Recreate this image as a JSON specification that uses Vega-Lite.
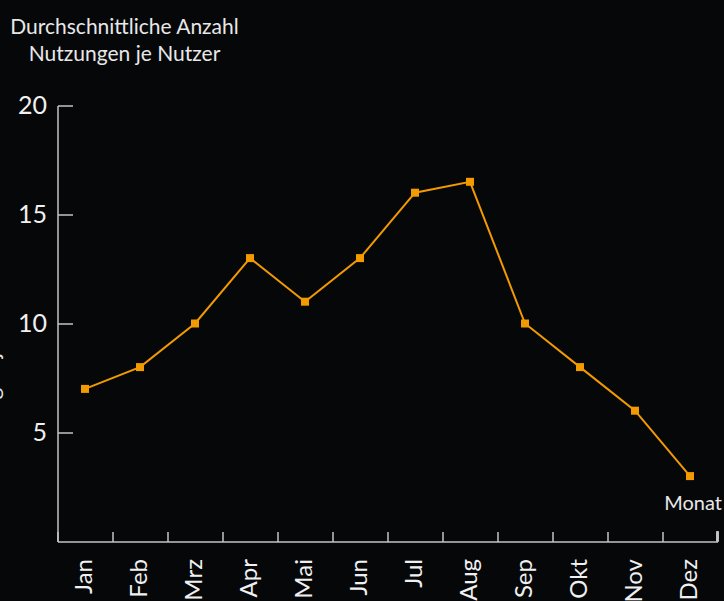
{
  "$schema": "https://vega.github.io/schema/vega-lite/v6.json",
  "autosize": {"type": "none"},
  "width": 660,
  "height": 436,
  "padding": {"left": 57.5, "top": 105.5, "right": 6.5, "bottom": 59.5},
  "background": "#060709",
  "title": {
    "text": "Anzahl Nutzungen je Nutzer",
    "orient": "left",
    "anchor": "start",
    "frame": "group",
    "baseline": "bottom",
    "offset": -17,
    "fontSize": 22,
    "fontWeight": "normal",
    "font": "Lato",
    "color": "#e8e8e8"
  },
  "config": {
    "view": {"stroke": null},
    "font": "Lato",
    "axis": {
      "domainColor": "#c4c4c4",
      "tickColor": "#c4c4c4",
      "domainWidth": 1.5,
      "tickWidth": 1.5,
      "labelColor": "#f0f0f0",
      "titleColor": "#e8e8e8",
      "labelFont": "Lato",
      "titleFont": "Lato",
      "grid": false,
      "titleFontWeight": "normal"
    }
  },
  "data": {
    "values": [
      {"Monat": "Jan", "Wert": 7},
      {"Monat": "Feb", "Wert": 8},
      {"Monat": "Mrz", "Wert": 10},
      {"Monat": "Apr", "Wert": 13},
      {"Monat": "Mai", "Wert": 11},
      {"Monat": "Jun", "Wert": 13},
      {"Monat": "Jul", "Wert": 16},
      {"Monat": "Aug", "Wert": 16.5},
      {"Monat": "Sep", "Wert": 10},
      {"Monat": "Okt", "Wert": 8},
      {"Monat": "Nov", "Wert": 6},
      {"Monat": "Dez", "Wert": 3}
    ]
  },
  "layer": [
    {
      "mark": {"type": "line", "color": "#f39a00", "strokeWidth": 2, "point": {"shape": "square", "size": 64, "filled": true, "color": "#f39a00", "opacity": 1}},
      "encoding": {
        "x": {
          "field": "Monat",
          "type": "ordinal",
          "sort": null,
          "bandPosition": 0.5,
          "scale": {"type": "band", "paddingInner": 0, "paddingOuter": 0},
          "axis": {
            "bandPosition": 0,
            "labelAngle": -90,
            "labelAlign": "right",
            "labelBaseline": "middle",
            "labelFontSize": 24,
            "labelPadding": 27,
            "tickSize": -10,
            "title": "Monat",
            "titleFontSize": 20,
            "titleAnchor": "end",
            "titleAlign": "right",
            "titleX": 664,
            "titleY": -38,
            "titleBaseline": "middle"
          }
        },
        "y": {
          "field": "Wert",
          "type": "quantitative",
          "scale": {"domain": [0, 20], "nice": false},
          "axis": {
            "values": [5, 10, 15, 20],
            "tickSize": -15,
            "labelFontSize": 25,
            "labelPadding": 26,
            "title": ["Durchschnittliche Anzahl", "Nutzungen je Nutzer"],
            "titleFontSize": 21,
            "titleLineHeight": 27,
            "titleAngle": 0,
            "titleAlign": "center",
            "titleBaseline": "top",
            "titleX": 66.5,
            "titleY": -89
          }
        }
      }
    },
    {
      "mark": {"type": "rule", "color": "#c4c4c4", "strokeWidth": 1.5},
      "encoding": {
        "x": {"datum": "Dez", "bandPosition": 1},
        "y": {"datum": 0},
        "y2": {"datum": 0.46}
      }
    }
  ]
}
